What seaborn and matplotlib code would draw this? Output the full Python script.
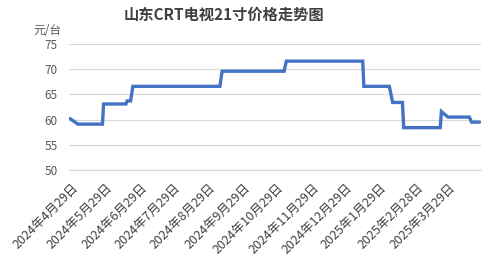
import matplotlib
matplotlib.use("Agg")
import matplotlib.pyplot as plt
import seaborn as sns
import pandas as pd
import numpy as np
import calendar

sns.set_theme(style="white")
plt.rcParams['font.family'] = ['Noto Sans CJK SC', 'DejaVu Sans']

# data: change points (date, price yuan/unit)
dates = ["2024-04-19", "2024-04-26", "2024-05-18", "2024-05-19", "2024-06-08", "2024-06-09",
         "2024-06-12", "2024-06-14", "2024-08-31", "2024-09-02", "2024-10-27", "2024-10-29",
         "2025-01-05", "2025-01-06", "2025-01-29", "2025-02-01", "2025-02-09", "2025-02-10",
         "2025-03-13", "2025-03-14", "2025-03-20", "2025-04-08", "2025-04-10", "2025-04-17"]
prices = [60.2, 59.1, 59.1, 63.1, 63.1, 63.7,
          63.7, 66.6, 66.6, 69.6, 69.6, 71.6,
          71.6, 66.6, 66.6, 63.4, 63.4, 58.4,
          58.4, 61.6, 60.5, 60.5, 59.5, 59.5]
tick_labels = ["2024年4月29日", "2024年5月29日", "2024年6月29日", "2024年7月29日",
               "2024年8月29日", "2024年9月29日", "2024年10月29日", "2024年11月29日",
               "2024年12月29日", "2025年1月29日", "2025年2月28日", "2025年3月29日"]
tick_dates = ["2024-04-29", "2024-05-29", "2024-06-29", "2024-07-29", "2024-08-29", "2024-09-29",
              "2024-10-29", "2024-11-29", "2024-12-29", "2025-01-29", "2025-02-28", "2025-03-29"]
yticks = [50, 55, 60, 65, 70, 75]


def month_pos(s):
    d = pd.Timestamp(s)
    dim = calendar.monthrange(d.year, d.month)[1]
    return (d.year - 2024) * 12 + (d.month - 4) + (d.day - 1) / dim


df = pd.DataFrame({"x": [month_pos(d) for d in dates], "price": prices})
tick_pos = [month_pos(d) for d in tick_dates]

fig = plt.figure(figsize=(4.84, 2.80), dpi=100)
ax = fig.add_axes([69 / 484, (280 - 170) / 280, (481 - 69) / 484, (170 - 44) / 280])

sns.lineplot(data=df, x="x", y="price", ax=ax, color="#4472C4", linewidth=2.4,
             solid_joinstyle="miter")

x0 = tick_pos[0] - 0.36
ax.set_xlim(x0, x0 + 12)
ax.set_ylim(50, 75)
ax.set_yticks(yticks)
ax.set_yticklabels([str(v) for v in yticks], fontsize=8.5, color="#595959")
ax.grid(axis="y", color="#D9D9D9", linewidth=0.9)
ax.set_axisbelow(True)
for s in ["left", "right", "top"]:
    ax.spines[s].set_visible(False)
ax.spines["bottom"].set_color("#D9D9D9")
ax.spines["bottom"].set_linewidth(0.9)

ax.set_xticks(tick_pos)
ax.set_xticklabels(tick_labels, rotation=45, ha="right", fontsize=9, color="#404040")
ax.tick_params(axis="x", length=0, pad=8)
ax.tick_params(axis="y", length=0, pad=8)
ax.set_xticks([x0 + k for k in range(13)], minor=True)
ax.tick_params(axis="x", which="minor", length=5, color="#D9D9D9", width=0.9)
ax.set_xlabel("")
ax.set_ylabel("")

fig.text(224 / 484, 1 - 15 / 280, "山东CRT电视21寸价格走势图", ha="center", va="center",
         fontsize=11, fontweight="bold", color="#404040")
fig.text(47 / 484, 1 - 30 / 280, "元/台", ha="center", va="center", fontsize=8.5, color="#595959")

fig.savefig("out.png", dpi=100)
